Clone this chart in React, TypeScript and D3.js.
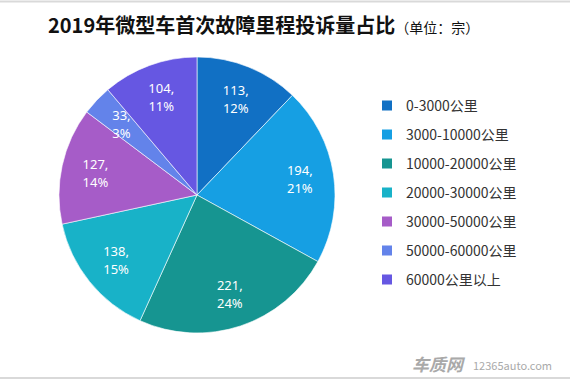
import React from "react";
import * as d3 from "d3";

const categories = ["0-3000公里", "3000-10000公里", "10000-20000公里", "20000-30000公里", "30000-50000公里", "50000-60000公里", "60000公里以上"];
const values = [113, 194, 221, 138, 127, 33, 104];
const percentLabels = ["12%", "21%", "24%", "15%", "14%", "3%", "11%"];
const colors = ["#1170C4", "#169FE3", "#169591", "#18B2C8", "#A65CC8", "#6383EA", "#6657E2"];
const title = "2019年微型车首次故障里程投诉量占比";
const unit = "（单位：宗）";

export default function App() {
  const W = 570, H = 380;
  const cx = 197, cy = 195, r = 138;
  const pie = d3.pie<number>().sort(null).value((d) => d);
  const arcs = pie(values);
  const arc = d3.arc<d3.PieArcDatum<number>>().innerRadius(0).outerRadius(r);
  const labelArc = d3.arc<d3.PieArcDatum<number>>().innerRadius(104).outerRadius(104);
  const font = "'Noto Sans CJK SC', 'Microsoft YaHei', sans-serif";
  const legendY = d3.scaleBand<number>().domain(d3.range(categories.length)).range([91, 294]);
  return (
    <svg width={W} height={H} style={{ position: "absolute", left: 0, top: 0, background: "#fff" }} fontFamily={font}>
      <rect x={0} y={0} width={W} height={H} fill="#fff" />
      <line x1={0} x2={W} y1={1.5} y2={1.5} stroke="#d9d9d9" strokeWidth={2} />
      <line x1={0} x2={W} y1={378} y2={378} stroke="#d9d9d9" strokeWidth={2} />
      <text x={48} y={33} fontSize={20} fontWeight="bold" fill="#111">
        {title}
        <tspan fontSize={14} fontWeight="normal">{unit}</tspan>
      </text>
      <g transform={`translate(${cx},${cy})`}>
        {arcs.map((a, i) => (
          <path key={i} d={arc(a) || ""} fill={colors[i]} stroke="#fff" strokeWidth={0.6} />
        ))}
        {arcs.map((a, i) => {
          const [x, y] = labelArc.centroid(a);
          return (
            <g key={"l" + i} fontFamily="'Noto Sans', sans-serif">
              <text x={x} y={y - 4} fill="#fff" fontSize={13} textAnchor="middle">{values[i]},</text>
              <text x={x} y={y + 14} fill="#fff" fontSize={13} textAnchor="middle">{percentLabels[i]}</text>
            </g>
          );
        })}
      </g>
      {categories.map((c, i) => {
        const y = (legendY(i) || 0) + legendY.bandwidth() / 2;
        return (
          <g key={"g" + i}>
            <rect x={382} y={y - 5} width={10} height={10} fill={colors[i]} />
            <text x={406} y={y + 5} fontSize={14} fill="#333">{c}</text>
          </g>
        );
      })}
      <text x={412} y={371} fontSize={17} fontWeight="bold" fill="#a9a9a9" fontStyle="italic">车质网</text>
      <text x={473} y={370} fontSize={11} fill="#a9a9a9">12365auto.com</text>
    </svg>
  );
}
